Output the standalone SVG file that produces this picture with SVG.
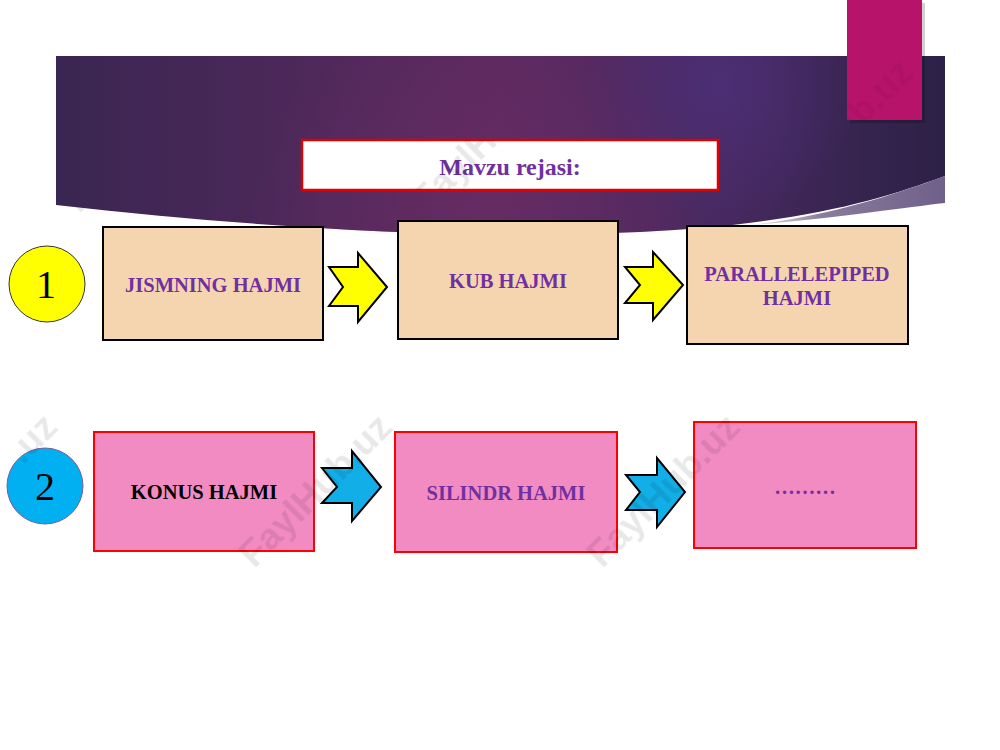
<svg xmlns="http://www.w3.org/2000/svg" width="1000" height="750" viewBox="0 0 1000 750">
  <defs>
    <linearGradient id="band" x1="0" y1="0" x2="1" y2="0">
      <stop offset="0" stop-color="#3a2652"/>
      <stop offset="0.25" stop-color="#4b2859"/>
      <stop offset="0.5" stop-color="#5d2a5f"/>
      <stop offset="0.75" stop-color="#47295f"/>
      <stop offset="1" stop-color="#2c2146"/>
    </linearGradient>
    <radialGradient id="glow" cx="720" cy="85" r="140" gradientUnits="userSpaceOnUse">
      <stop offset="0" stop-color="#4d2f7a" stop-opacity="0.8"/>
      <stop offset="1" stop-color="#4d2f7a" stop-opacity="0"/>
    </radialGradient>
    <radialGradient id="glow2" cx="480" cy="225" r="230" gradientUnits="userSpaceOnUse">
      <stop offset="0" stop-color="#6a2c66" stop-opacity="0.7"/>
      <stop offset="1" stop-color="#6a2c66" stop-opacity="0"/>
    </radialGradient>
    <linearGradient id="wedge" x1="740" y1="0" x2="945" y2="0" gradientUnits="userSpaceOnUse">
      <stop offset="0" stop-color="#6b5b84" stop-opacity="0"/>
      <stop offset="0.4" stop-color="#6b5b84" stop-opacity="0.8"/>
      <stop offset="1" stop-color="#6e6088"/>
    </linearGradient>
    <mask id="wmmask" maskUnits="userSpaceOnUse" x="0" y="0" width="1000" height="750">
      <rect width="1000" height="750" fill="#fff"/>
      <path d="M56,56 H945 V203 C800,222 700,232 640,232 C460,240 260,228 56,205 Z" fill="#000"/>
      <rect x="302" y="140" width="416" height="50" fill="#fff"/>
      <rect x="847" y="0" width="75" height="120" fill="#888"/>
    </mask>
    <style>
      .tan { fill: #f5d5b0; stroke: #000; stroke-width: 2; }
      .pink { fill: #f38bc3; stroke: #ff0000; stroke-width: 2; }
      .lbl { font-family: "Liberation Serif", "Times New Roman", serif; font-weight: bold; font-size: 20.5px; text-anchor: middle; fill: #7030a0; }
      .num { font-family: "Liberation Serif", "Times New Roman", serif; font-size: 40px; text-anchor: middle; fill: #000; }
      .yarrow { fill: #ffff00; stroke: #000; stroke-width: 2; stroke-linejoin: miter; }
      .barrow { fill: #12aee8; stroke: #000; stroke-width: 2; stroke-linejoin: miter; }
      .wm { font-family: "Liberation Sans", Arial, sans-serif; font-weight: bold; font-size: 37px; fill: #000; fill-opacity: 0.09; text-anchor: middle; }
    </style>
  </defs>

  <rect width="1000" height="750" fill="#ffffff"/>

  <!-- header band -->
  <g id="header">
    <path d="M56,56 H945 V176 C880,200 800,224 640,232 C460,240 260,228 56,205 Z" fill="url(#band)"/>
    <path d="M56,56 H945 V176 C880,200 800,224 640,232 C460,240 260,228 56,205 Z" fill="url(#glow)"/>
    <path d="M56,56 H945 V176 C880,200 800,224 640,232 C460,240 260,228 56,205 Z" fill="url(#glow2)"/>
    <path d="M720,228 C830,219 900,208 945,203 V176 C880,200 810,221 720,228 Z" fill="url(#wedge)"/>
  </g>
  <g id="tab">
    <rect x="850" y="3" width="75" height="120" fill="#000" fill-opacity="0.18"/>
    <rect x="847" y="0" width="75" height="120" fill="#b8136b"/>
  </g>

  <g id="title">
    <rect x="302" y="140" width="416" height="50" fill="#ffffff" stroke="#e00000" stroke-width="2.5"/>
    <text x="510" y="175" class="lbl" style="font-size:24px">Mavzu rejasi:</text>
  </g>

  <!-- row 1 -->
  <g id="circle1">
    <circle cx="47" cy="284" r="38" fill="#ffff00" stroke="#333" stroke-width="1"/>
    <text x="46" y="298" class="num">1</text>
  </g>
  <g id="jismning">
    <rect x="103" y="227" width="220" height="113" class="tan"/>
    <text x="213" y="292" class="lbl">JISMNING HAJMI</text>
  </g>
  <g id="kub">
    <rect x="398" y="221" width="220" height="118" class="tan"/>
    <text x="508" y="288" class="lbl">KUB HAJMI</text>
  </g>
  <g id="parallelepiped">
    <rect x="687" y="226" width="221" height="118" class="tan"/>
    <text x="797" y="281" class="lbl">PARALLELEPIPED</text>
    <text x="797" y="305" class="lbl">HAJMI</text>
  </g>

  <!-- row 2 -->
  <g id="circle2">
    <circle cx="45" cy="486" r="38" fill="#00b0f0" stroke="#7a5a9a" stroke-width="1"/>
    <text x="45" y="500" class="num">2</text>
  </g>
  <g id="konus">
    <rect x="94" y="432" width="220" height="119" class="pink"/>
    <text x="204" y="499" class="lbl" style="fill:#000">KONUS HAJMI</text>
  </g>
  <g id="silindr">
    <rect x="395" y="432" width="222" height="120" class="pink"/>
    <text x="506" y="500" class="lbl">SILINDR HAJMI</text>
  </g>
  <g id="dots">
    <rect x="694" y="422" width="222" height="126" class="pink"/>
    <text x="805" y="494" class="lbl">………</text>
  </g>

  <!-- connectors -->
  <g id="connectors">
    <path class="yarrow" d="M329,267 H358 V253 L387,287 L358,322 V306 H329 L343,287 Z"/>
    <path class="yarrow" d="M625,267 H653 V252 L683,285 L653,320 V303 H625 L640,285 Z"/>
    <path class="barrow" d="M322,468 H352 V451 L381,487 L352,521 V503 H322 L337,487 Z"/>
    <path class="barrow" d="M626,475 H657 V458 L685,492 L657,527 V510 H626 L640,492 Z"/>
  </g>

  <!-- watermark -->
  <g id="watermark" mask="url(#wmmask)">
    <text class="wm" transform="translate(140,135) rotate(-45)" y="13">FaylHub.uz</text>
    <text class="wm" transform="translate(488,135) rotate(-45)" y="13">FaylHub.uz</text>
    <text class="wm" transform="translate(836,135) rotate(-45)" y="13">FaylHub.uz</text>
    <text class="wm" transform="translate(32,438) rotate(-45)" y="13">.uz</text>
    <text class="wm" transform="translate(315,490) rotate(-45)" y="13">FaylHub.uz</text>
    <text class="wm" transform="translate(663,490) rotate(-45)" y="13">FaylHub.uz</text>
  </g>
</svg>
